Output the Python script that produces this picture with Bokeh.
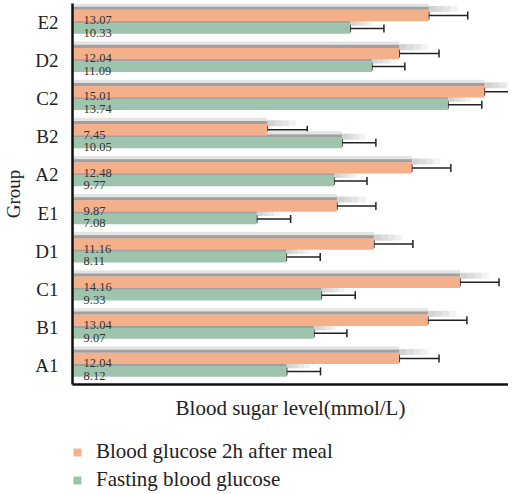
from bokeh.plotting import figure
from bokeh.layouts import column
from bokeh.models import ColumnDataSource, Whisker, TeeHead, FactorRange, FixedTicker, Legend, LegendItem, Range1d
from bokeh.transform import dodge
from bokeh.core.properties import value
from bokeh.embed import file_html
from bokeh.resources import INLINE

# ---- data (bottom to top) ----
groups = ["A1", "B1", "C1", "D1", "E1", "A2", "B2", "C2", "D2", "E2"]
after_meal = [12.04, 13.04, 14.16, 11.16, 9.87, 12.48, 7.45, 15.01, 12.04, 13.07]
fasting = [8.12, 9.07, 9.33, 8.11, 7.08, 9.77, 10.05, 13.74, 11.09, 10.33]
after_meal_err = [1.39, 1.36, 1.36, 1.36, 1.36, 1.36, 1.39, 1.38, 1.39, 1.36]
fasting_err = [1.18, 1.15, 1.18, 1.18, 1.18, 1.15, 1.18, 1.18, 1.15, 1.18]
after_labels = ["%.2f" % v for v in after_meal]
fast_labels = ["%.2f" % v for v in fasting]
series_names = ["Blood glucose 2h after meal", "Fasting blood glucose"]

ORANGE = "#F4B08A"
GREEN = "#9EC4AE"
FONT = "Liberation Serif"
X0 = 0.66
W = 508

data = dict(
    g=groups, am=after_meal, fa=fasting,
    am_lo=after_meal, am_hi=[a + e for a, e in zip(after_meal, after_meal_err)],
    fa_lo=fasting, fa_hi=[a + e for a, e in zip(fasting, fasting_err)],
    am_lab=after_labels, fa_lab=fast_labels,
    zero=[0] * len(groups),
    x0=[X0] * len(groups),
)
# fading shadow tails (style only)
TAILS = [0.25, 0.5, 0.75, 1.0]
for i, t in enumerate(TAILS):
    data["am_t%d" % i] = [v + t for v in after_meal]
    data["fa_t%d" % i] = [v + t * 0.8 for v in fasting]
src = ColumnDataSource(data)

p = figure(width=W, height=424, y_range=FactorRange(*groups, range_padding=0),
           x_range=Range1d(X0, 15.85), output_backend="svg", toolbar_location=None,
           min_border_left=64, min_border_top=3, min_border_right=0, min_border_bottom=40)
p.grid.visible = False
p.outline_line_color = None
p.background_fill_color = "white"

OFF_O, BH_O = 0.185, 0.30
OFF_G, BH_G = -0.156, 0.28

for off, bh, fld in [(OFF_O, BH_O, "am"), (OFF_G, BH_G, "fa")]:
    top = off + bh / 2
    for i in range(len(TAILS)):
        p.hbar(y=dodge("g", top + 0.02, range=p.y_range), left="zero", right="%s_t%d" % (fld, i),
               height=0.16, source=src, fill_color="#9a9a9a", fill_alpha=0.13, line_color=None)
    # light halo above
    p.hbar(y=dodge("g", top + 0.12, range=p.y_range), left="zero", right=fld,
           height=0.09, source=src, fill_color="#e4e4e4", line_color=None)
    # dark strip just above bar
    p.hbar(y=dodge("g", top + 0.04, range=p.y_range), left="zero", right=fld,
           height=0.08, source=src, fill_color="#a0a0a0", line_color=None)

r_o = p.hbar(y=dodge("g", OFF_O, range=p.y_range), left="zero", right="am", height=BH_O,
             source=src, fill_color=ORANGE, line_color=None)
r_g = p.hbar(y=dodge("g", OFF_G, range=p.y_range), left="zero", right="fa", height=BH_G,
             source=src, fill_color=GREEN, line_color=None)

for off, lo, hi in [(OFF_O, "am_lo", "am_hi"), (OFF_G, "fa_lo", "fa_hi")]:
    w = Whisker(base=dodge("g", off, range=p.y_range), lower=lo, upper=hi, dimension="width",
                source=src, line_color="#222222", line_width=1.5,
                upper_head=TeeHead(size=8, line_color="#222222", line_width=1.5),
                lower_head=TeeHead(size=8, line_color="#222222", line_width=1.5))
    p.add_layout(w)

for off, bh, fld in [(OFF_O, BH_O, "am_lab"), (OFF_G, BH_G, "fa_lab")]:
    p.text(x="x0", y=dodge("g", off - bh / 2, range=p.y_range), text=fld, source=src,
           x_offset=11, y_offset=-1, text_font=value(FONT), text_font_size="12.5px",
           text_color="#333333", text_baseline="alphabetic", text_align="left")

# axes
p.xaxis.ticker = FixedTicker(ticks=[])
p.xaxis.axis_label = "Blood sugar level(mmol/L)"
p.xaxis.axis_label_text_font = FONT
p.xaxis.axis_label_text_font_style = "normal"
p.xaxis.axis_label_text_font_size = "21px"
p.xaxis.axis_label_text_color = "#222222"
p.xaxis.axis_label_standoff = 11
p.xaxis.axis_line_width = 2.5
p.xaxis.axis_line_color = "#111111"
p.xaxis.major_tick_line_color = None
p.xaxis.minor_tick_line_color = None

p.yaxis.axis_label = "Group"
p.yaxis.axis_label_text_font = FONT
p.yaxis.axis_label_text_font_style = "normal"
p.yaxis.axis_label_text_font_size = "19px"
p.yaxis.axis_label_text_color = "#222222"
p.yaxis.axis_label_standoff = 8
p.yaxis.major_label_text_font = FONT
p.yaxis.major_label_text_font_size = "19px"
p.yaxis.major_label_text_color = "#222222"
p.yaxis.major_label_standoff = 8
p.yaxis.axis_line_width = 2.5
p.yaxis.axis_line_color = "#111111"
p.yaxis.major_tick_line_color = None
p.yaxis.minor_tick_line_color = None

# ---- legend strip below the chart ----
q = figure(width=W, height=69, x_range=Range1d(0, 1), y_range=Range1d(0, 1),
           x_axis_type=None, y_axis_type=None, output_backend="svg", toolbar_location=None,
           min_border=0, min_border_left=54)
q.grid.visible = False
q.outline_line_color = None
# legend-only renderers (their single point lies outside the visible range)
l_o = q.rect(x=[-5], y=[-5], width=1, height=1, fill_color=ORANGE, line_color=None)
l_g = q.rect(x=[-5], y=[-5], width=1, height=1, fill_color=GREEN, line_color=None)
legend = Legend(items=[LegendItem(label=series_names[0], renderers=[l_o]),
                       LegendItem(label=series_names[1], renderers=[l_g])],
                location=(0, 1), orientation="vertical")
legend.label_text_font = FONT
legend.label_text_font_size = "21px"
legend.label_text_color = "#222222"
legend.glyph_width = 10
legend.glyph_height = 10
legend.label_standoff = 14
legend.spacing = 3
legend.padding = 0
legend.margin = 0
legend.border_line_color = None
legend.background_fill_alpha = 0
legend.label_height = 20
q.add_layout(legend, "center")

open("out.html", "w").write(file_html(column(p, q, spacing=0), INLINE))
